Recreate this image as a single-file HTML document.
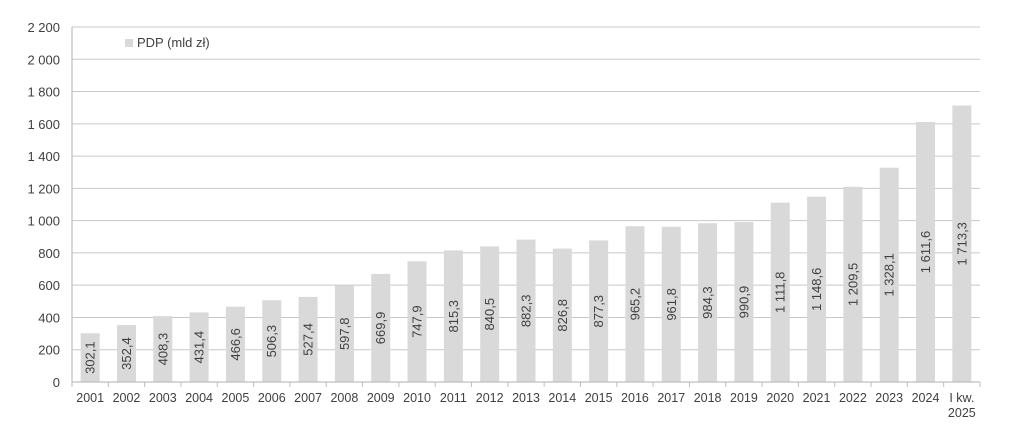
<!DOCTYPE html>
<html><head><meta charset="utf-8"><style>
body{margin:0;background:#fff;}
svg{display:block;font-family:"Liberation Sans",sans-serif;}
</style></head><body>
<svg id="chart" width="1025" height="441" viewBox="0 0 1025 441">
<g id="grid"></g>
<g id="bars"></g>
<g id="yaxis"></g>
<g id="xaxis"></g>
<g>
<rect x="125" y="39" width="8" height="8" fill="#d9d9d9"/>
<text x="137" y="47" font-size="13" fill="#404040">PDP (mld zł)</text>
</g>
</svg>
<script>
const categories=["2001","2002","2003","2004","2005","2006","2007","2008","2009","2010","2011","2012","2013","2014","2015","2016","2017","2018","2019","2020","2021","2022","2023","2024","I kw.|2025"];
const values=[302.1,352.4,408.3,431.4,466.6,506.3,527.4,597.8,669.9,747.9,815.3,840.5,882.3,826.8,877.3,965.2,961.8,984.3,990.9,1111.8,1148.6,1209.5,1328.1,1611.6,1713.3];
const valueLabels=["302,1","352,4","408,3","431,4","466,6","506,3","527,4","597,8","669,9","747,9","815,3","840,5","882,3","826,8","877,3","965,2","961,8","984,3","990,9","1 111,8","1 148,6","1 209,5","1 328,1","1 611,6","1 713,3"];
const yTicks=[0,200,400,600,800,1000,1200,1400,1600,1800,2000,2200];
const yTickLabels=["0","200","400","600","800","1 000","1 200","1 400","1 600","1 800","2 000","2 200"];
const NS="http://www.w3.org/2000/svg";
const X0=72,X1=980,Y0=382,Y1=27,YMAX=2200;
const y=v=>Y0-(v/YMAX)*(Y0-Y1);
const bw=(X1-X0)/categories.length;
const xc=i=>X0+bw*(i+0.5);
function mk(t,a,p){const e=document.createElementNS(NS,t);for(const k in a)e.setAttribute(k,a[k]);p.appendChild(e);return e;}
const grid=document.getElementById('grid'),bars=document.getElementById('bars'),ya=document.getElementById('yaxis'),xa=document.getElementById('xaxis');
yTicks.forEach((t,i)=>{
 if(t>0){const l=mk('line',{x1:X0,x2:X1,y1:y(t),y2:y(t),stroke:'#c8c8c8','stroke-width':1},grid);
 
 }
 const tx=mk('text',{x:X0-12,y:y(t)+5,'text-anchor':'end','font-size':13,fill:'#404040'},ya);
 tx.textContent=yTickLabels[i];
 
 
});
const yl=mk('line',{x1:X0,x2:X0,y1:Y1,y2:Y0,stroke:'#bfbfbf','stroke-width':1.2},ya);


const xl=mk('line',{x1:X0,x2:X1,y1:Y0,y2:Y0,stroke:'#bfbfbf','stroke-width':1.2},xa);


for(let i=0;i<=categories.length;i++){
 const tk=mk('line',{x1:X0+bw*i,x2:X0+bw*i,y1:Y0,y2:Y0+5,stroke:'#bfbfbf'},xa);
 
 
}
categories.forEach((c,i)=>{
 const top=y(values[i]);
 const r=mk('rect',{x:xc(i)-9.5,y:top,width:19,height:Y0-top,fill:'#d9d9d9'},bars);
 
 
 const cy=(top+Y0)/2;
 const vl=mk('text',{x:xc(i),y:cy,'text-anchor':'middle','dominant-baseline':'central','font-size':13,fill:'#404040',transform:`rotate(-90 ${xc(i)} ${cy})`},bars);
 vl.textContent=valueLabels[i];
 
 
 c.split('|').forEach((part,j)=>{
  const t=mk('text',{x:xc(i),y:Y0+20+j*15,'text-anchor':'middle','font-size':12.5,fill:'#404040'},xa);
  t.textContent=part;
  
  
 });
});
</script>
</body></html>
